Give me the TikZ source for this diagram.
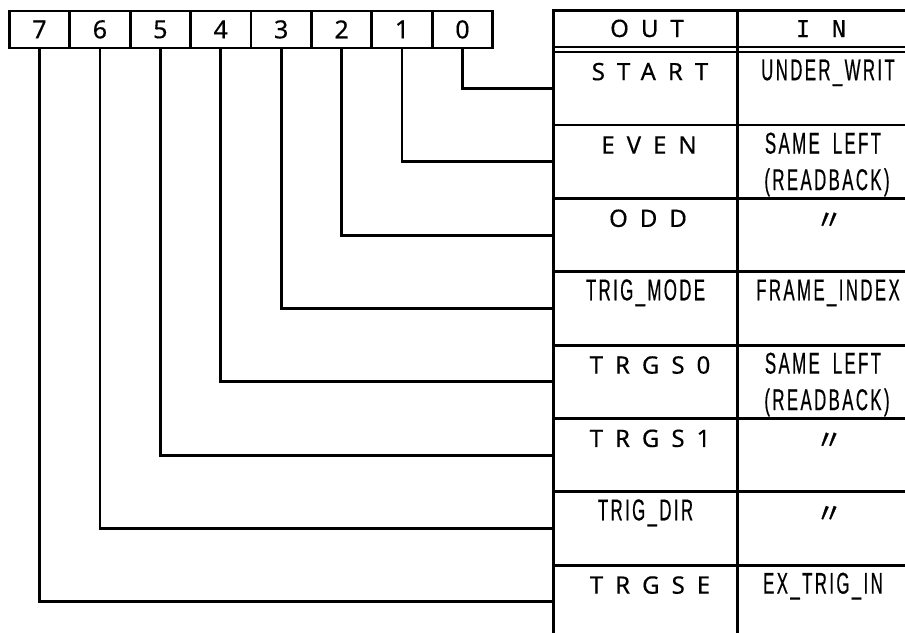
\documentclass[tikz,border=0pt]{standalone}
\usepackage{fontspec}
\setmainfont{Noto Sans}
\newfontfamily\digitfont{Noto Sans}[FakeBold=0.4]
\newfontfamily\condfont{Liberation Sans}[FakeStretch=0.56,LetterSpace=8,FakeBold=0.5]
\newfontfamily\spacedfont{Noto Sans}[LetterSpace=50,FakeBold=0.4]
\newfontfamily\dittofont{Noto Sans CJK JP}[FakeBold=1.2]
\newfontfamily\monofont{DejaVu Sans Mono}[FakeBold=0.3]

\tikzset{
  rule/.style={line width=2.8pt},
  thinrule/.style={line width=2.2pt},
  wire/.style={line width=2.8pt},
  bitcell/.style={draw, line width=2.8pt, minimum width=60.425pt, minimum height=37pt,
    inner sep=0pt, font=\digitfont\fontsize{25}{25}\selectfont},
  wide/.style={anchor=base, inner sep=0pt, font=\spacedfont\fontsize{24}{24}\selectfont},
  narrow/.style={anchor=base, inner sep=0pt, font=\condfont\fontsize{30}{30}\selectfont},
  ditto/.style={anchor=base, inner sep=0pt, font=\dittofont\fontsize{27}{27}\selectfont},
  head/.style={anchor=base, inner sep=0pt, font=\monofont\fontsize{23}{23}\selectfont},
}

\begin{document}
\begin{tikzpicture}[x=1pt,y=-1pt]
\useasboundingbox (0,0) rectangle (905,632);

% bit register 7..0
\foreach \i in {0,...,7}{
  \pgfmathsetmacro{\bx}{9.3+(7.5-\i)*60.425}
  \node[bitcell] (b\i) at (\bx,29.4) {\i};
}

% register table frame
\draw[rule] (553.3,633) -- (553.3,10.7) -- (906,10.7);
\draw[rule] (737.7,10.7) -- (737.7,633);
\draw[thinrule] (553.3,47.3) -- (906,47.3) (553.3,51.9) -- (906,51.9);
\foreach \r in {1,...,7}
  \draw[rule] (553.3,{51.7+\r*73.35}) -- (906,{51.7+\r*73.35});

% header
\node[wide] (hout) at (647,37) {OUT};
\node[head] (hin) at (821,37) {I\hspace{22pt}N};

% bit connectors into each row
\foreach \i in {0,...,7}{
  \coordinate (r\i) at (553.3,{51.7+\i*73.35+36.7});
  \draw[wire] (b\i.south) |- (r\i);
}

% OUT column
\node[wide]   (o0) at (650,{51.7+0*73.35+28.5}) {START};
\node[wide]   (o1) at (649,{51.7+1*73.35+28.5}) {EVEN};
\node[wide]   (o2) at (648,{51.7+2*73.35+28.5}) {ODD};
\node[narrow] (o3) at (645.5,{51.7+3*73.35+28.5}) {TRIG\_MODE};
\node[wide]   (o4) at (650,{51.7+4*73.35+28.5}) {TRGS0};
\node[wide]   (o5) at (650,{51.7+5*73.35+28.5}) {TRGS1};
\node[narrow] (o6) at (645.5,{51.7+6*73.35+28.5}) {TRIG\_DIR};
\node[wide]   (o7) at (650,{51.7+7*73.35+28.5}) {TRGSE};

% IN column
\node[narrow] (i0) at (828,{51.7+0*73.35+28.5}) {UNDER\_WRIT};
\node[narrow] (i1a) at (823,{51.7+1*73.35+28.5}) {SAME\hspace{13pt}LEFT};
\node[narrow] (i1b) at (827,{51.7+1*73.35+65}) {(READBACK)};
\node[ditto]  (i2) at (829,{51.7+2*73.35+31}) {〃};
\node[narrow] (i3) at (828,{51.7+3*73.35+28.5}) {FRAME\_INDEX};
\node[narrow] (i4a) at (823,{51.7+4*73.35+28.5}) {SAME\hspace{13pt}LEFT};
\node[narrow] (i4b) at (827,{51.7+4*73.35+65}) {(READBACK)};
\node[ditto]  (i5) at (829,{51.7+5*73.35+31}) {〃};
\node[ditto]  (i6) at (829,{51.7+6*73.35+31}) {〃};
\node[narrow] (i7) at (823,{51.7+7*73.35+28.5}) {EX\_TRIG\_IN};
\end{tikzpicture}
\end{document}
